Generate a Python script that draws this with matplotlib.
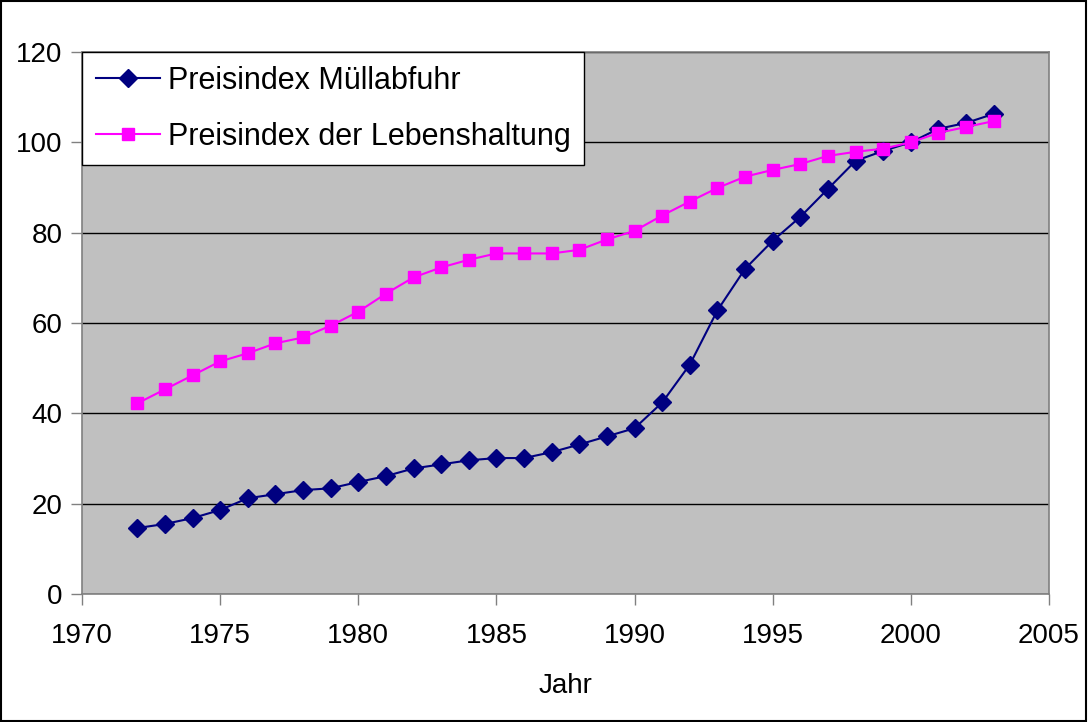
import matplotlib
matplotlib.use("Agg")
import matplotlib.pyplot as plt
from matplotlib.patches import Rectangle

plt.rcParams['font.family'] = ['Liberation Sans', 'DejaVu Sans']

jahre = list(range(1972, 2004))
muell = [14.6, 15.5, 16.8, 18.6, 21.2, 22.1, 23.0, 23.4, 24.8, 26.1,
         27.8, 28.7, 29.6, 30.1, 30.1, 31.4, 33.1, 34.9, 36.7, 42.4,
         50.8, 62.8, 72.0, 78.2, 83.5, 89.7, 95.9, 98.1, 100.0, 103.0,
         104.3, 106.3]
lebens = [42.2, 45.3, 48.4, 51.5, 53.3, 55.5, 56.8, 59.4, 62.5, 66.5,
          70.1, 72.3, 74.0, 75.4, 75.4, 75.4, 76.2, 78.5, 80.4, 83.8,
          86.9, 89.9, 92.4, 93.9, 95.2, 97.0, 97.9, 98.6, 100.0, 102.1,
          103.4, 104.7]
labels = ["Preisindex Müllabfuhr", "Preisindex der Lebenshaltung"]

fig = plt.figure(figsize=(10.88, 7.22), dpi=100)
ax = fig.add_axes([82 / 1088, 1 - 594 / 722, (1049 - 82) / 1088, (594 - 52) / 722])
ax.set_facecolor('#C0C0C0')

ax.plot(jahre, muell, color='#000080', marker='D', markersize=9,
        linewidth=1.5, label=labels[0], zorder=3)
ax.plot(jahre, lebens, color='#FF00FF', marker='s', markersize=9,
        linewidth=1.5, label=labels[1], zorder=3)

ax.set_xlim(1970, 2005)
ax.set_ylim(0, 120)
ax.set_xticks(range(1970, 2006, 5))
ax.set_yticks(range(0, 121, 20))
ax.yaxis.grid(True, color='black', linewidth=1)
ax.set_axisbelow(True)
for s in ax.spines.values():
    s.set_color('#808080')
    s.set_linewidth(1.2)
ax.tick_params(axis='both', labelsize=20, length=8, width=1, color='#808080')
ax.tick_params(axis='x', pad=13)
ax.tick_params(axis='y', pad=6)
ax.set_xlabel("Jahr", fontsize=20, labelpad=17)

leg = ax.legend(loc='upper left', bbox_to_anchor=(0, 1), fontsize=22,
                frameon=True, fancybox=False, borderaxespad=0,
                handlelength=2.1, handletextpad=0.25, borderpad=0.45,
                labelspacing=0.85)
leg.get_frame().set_edgecolor('black')
leg.get_frame().set_linewidth(1)
leg.get_frame().set_alpha(1)

fig.patches.append(Rectangle((0.001, 0.001), 0.997, 0.997, transform=fig.transFigure,
                             fill=False, edgecolor='black', linewidth=1.5))

fig.savefig("out.png", dpi=100)
